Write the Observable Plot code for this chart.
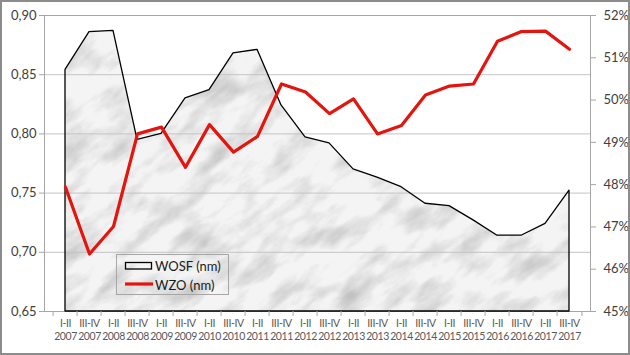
<!DOCTYPE html>
<html>
<head>
<meta charset="utf-8">
<script src="https://cdn.jsdelivr.net/npm/d3@7"></script>
<script src="https://cdn.jsdelivr.net/npm/@observablehq/plot@0.6"></script>
<style>
  html, body { margin: 0; padding: 0; background: #fff; }
  #chart { width: 630px; height: 355px; }
</style>
</head>
<body>
<div id="chart"></div>
<script>
// ---- data ----
const categories = [
  "I-II\n2007","III-IV\n2007","I-II\n2008","III-IV\n2008","I-II\n2009","III-IV\n2009",
  "I-II\n2010","III-IV\n2010","I-II\n2011","III-IV\n2011","I-II\n2012","III-IV\n2012",
  "I-II\n2013","III-IV\n2013","I-II\n2014","III-IV\n2014","I-II\n2015","III-IV\n2015",
  "I-II\n2016","III-IV\n2016","I-II\n2017","III-IV\n2017"
];
const wosf = [0.854, 0.886, 0.887, 0.795, 0.800, 0.830, 0.837, 0.868, 0.871, 0.824, 0.797,
              0.792, 0.770, 0.763, 0.755, 0.741, 0.739, 0.727, 0.714, 0.714, 0.724, 0.752];
const wzo = [47.94, 46.36, 47.01, 49.20, 49.36, 48.41, 49.42, 48.77, 49.14, 50.38, 50.19,
             49.68, 50.03, 49.20, 49.40, 50.12, 50.33, 50.38, 51.39, 51.62, 51.63, 51.20];
const leftTicks = [0.65, 0.70, 0.75, 0.80, 0.85, 0.90];
const rightTicks = [45, 46, 47, 48, 49, 50, 51, 52];
const seriesNames = ["WOSF (nm)", "WZO (nm)"];

// ---- build ----
const leftDomain = [0.65, 0.90];
const rightDomain = [45, 52];
const toLeft = p => leftDomain[0] + (p - rightDomain[0]) * (leftDomain[1] - leftDomain[0]) / (rightDomain[1] - rightDomain[0]);
const rows = categories.map((c, i) => ({cat: c, wosf: wosf[i], wzo: wzo[i]}));

const W = 630, H = 355, mL = 44, mR = 40, mT = 15, mB = 44;
const step = (W - mL - mR) / categories.length;

const plot = Plot.plot({
  width: W, height: H,
  marginLeft: mL, marginRight: mR, marginTop: mT, marginBottom: mB,
  x: {type: "point", domain: categories, padding: 0.5, label: null},
  y: {domain: leftDomain, label: null},
  style: {fontFamily: "Lato, 'Open Sans', sans-serif", fontSize: "13px", background: "transparent", color: "#404040"},
  marks: [
    Plot.areaY(rows, {x: "cat", y1: leftDomain[0], y2: "wosf", fill: "url(#marble)"}),
    Plot.gridY(leftTicks, {stroke: "#c4c4c4", strokeOpacity: 1}),
    Plot.frame({stroke: "#a6a6a6"}),
    Plot.areaY(rows, {x: "cat", y1: leftDomain[0], y2: "wosf", fill: "none", stroke: "#000", strokeWidth: 1.3}),
    Plot.line(rows, {x: "cat", y: d => toLeft(d.wzo), stroke: "#e2150f", strokeWidth: 3.2}),
    Plot.axisY(leftTicks, {anchor: "left", label: null, tickSize: 5, tickPadding: 3, stroke: "#a6a6a6", fill: "#404040",
      tickFormat: d => d.toFixed(2).replace(".", ","), fontSize: 13}),
    Plot.axisY(rightTicks.map(toLeft), {anchor: "right", label: null, tickSize: 5, tickPadding: 8, stroke: "#a6a6a6", fill: "#404040",
      tickFormat: (d, i) => rightTicks[i] + "%", fontSize: 13}),
    Plot.axisX(categories, {anchor: "bottom", label: null, tickSize: 0, tickPadding: 7, fill: "#595959", fontSize: 10.5,
      lineHeight: 1.18, tickFormat: d => d}),
    Plot.axisX(categories, {anchor: "bottom", label: null, tickSize: 5, stroke: "#a6a6a6", tickFormat: () => "", dx: -step / 2}),
    Plot.axisX(categories.slice(-1), {anchor: "bottom", label: null, tickSize: 5, stroke: "#a6a6a6", tickFormat: () => "", dx: step / 2})
  ]
});

const svg = d3.select(plot);
svg.selectAll("text").filter(function() { return this.querySelector("tspan") !== null; })
  .attr("letter-spacing", "-0.4");
svg.insert("defs", ":first-child").html(`
  <filter id="marbleNoise" x="0" y="0" width="100%" height="100%" color-interpolation-filters="sRGB">
    <feTurbulence type="fractalNoise" baseFrequency="0.02 0.05" numOctaves="5" seed="4" result="n"/>
    <feColorMatrix in="n" type="matrix" values="0 0 0 0 0.68  0 0 0 0 0.68  0 0 0 0 0.68  1.5 0 0 0 -0.64"/>
  </filter>
  <pattern id="marble" patternUnits="userSpaceOnUse" x="-800" y="-800" width="2400" height="2400" patternTransform="rotate(-35)">
    <rect width="2400" height="2400" fill="#f4f4f4"/>
    <rect width="2400" height="2400" fill="#fff" filter="url(#marbleNoise)"/>
  </pattern>
`);

// legend
const lg = svg.append("g").attr("font-family", "Lato, 'Open Sans', sans-serif").attr("font-size", 13).attr("text-anchor", "start");
lg.append("rect").attr("x", 116.5).attr("y", 254.5).attr("width", 112).attr("height", 40)
  .attr("fill", "none").attr("stroke", "#a6a6a6");
lg.append("rect").attr("x", 125.5).attr("y", 262.5).attr("width", 26).attr("height", 6.5)
  .attr("fill", "url(#marble)").attr("stroke", "#000").attr("stroke-width", 1.3);
lg.append("line").attr("x1", 125).attr("x2", 153).attr("y1", 284).attr("y2", 284)
  .attr("stroke", "#e2150f").attr("stroke-width", 3.2);
lg.append("text").attr("x", 155).attr("y", 266).attr("dy", "0.35em").attr("fill", "#1a1a1a").text(seriesNames[0]);
lg.append("text").attr("x", 155).attr("y", 285).attr("dy", "0.35em").attr("fill", "#1a1a1a").text(seriesNames[1]);

// outer border
svg.append("rect").attr("x", 1).attr("y", 1).attr("width", W - 2).attr("height", H - 2)
  .attr("fill", "none").attr("stroke", "#8c8c8c").attr("stroke-width", 2);

document.getElementById("chart").appendChild(plot);
</script>
</body>
</html>
